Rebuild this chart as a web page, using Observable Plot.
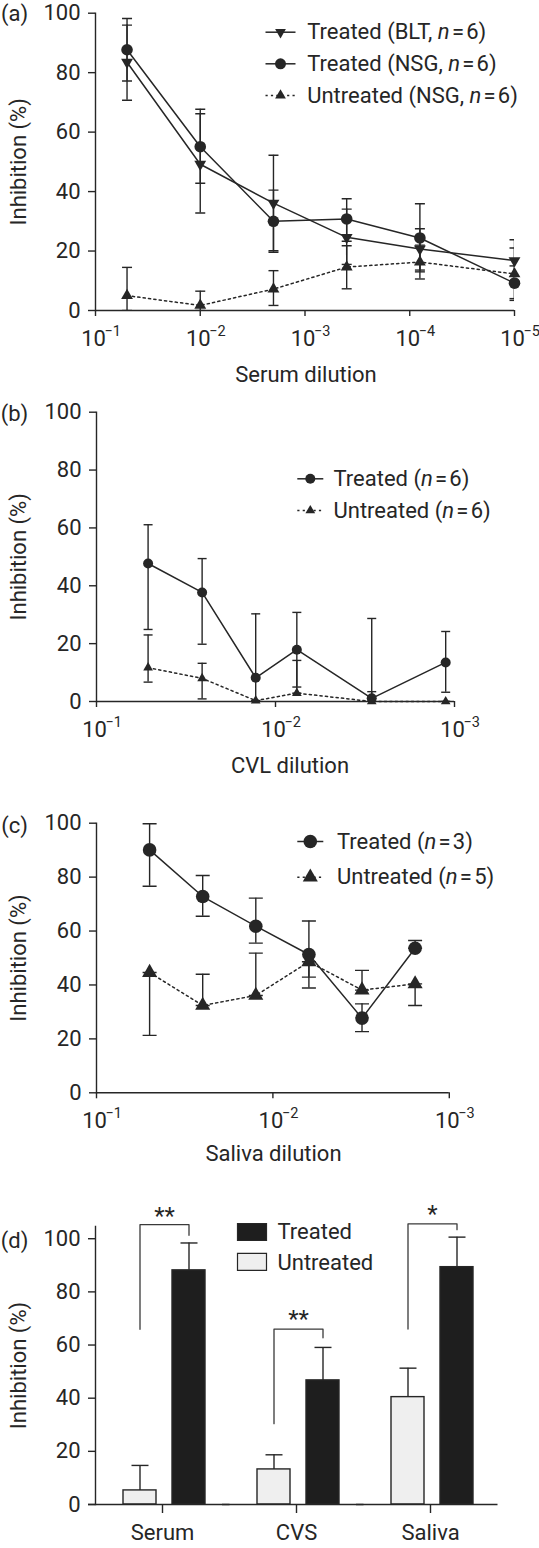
<!DOCTYPE html>
<html><head><meta charset="utf-8">
<script src="https://cdn.jsdelivr.net/npm/d3@7"></script>
<script src="https://cdn.jsdelivr.net/npm/@observablehq/plot@0.6"></script>
<style>
body{margin:0;background:#fff;}
#wrap{position:relative;width:539px;height:1548px;overflow:hidden;background:#fff;}
#wrap svg{position:absolute;left:0;}
</style></head><body><div id="wrap"></div>
<script>
// ---------------- data ----------------
const yTicks = [0, 20, 40, 60, 80, 100];

// (a) serum
const serumDilution = [0.05, 0.01, 0.002, 0.0004, 0.00008, 0.00001];
const serumTicks = [1e-1, 1e-2, 1e-3, 1e-4, 1e-5];
const serumBLT = [83.5, 49.2, 36.1, 24.6, 20.7, 16.8];
const serumBLTHigh = [96.0, 66.2, 52.2, 34.1, 27.5, 23.8];
const serumBLTLow = [70.7, 32.8, 20.1, 15.5, 13.6, 10.0];
const serumNSG = [87.7, 55.1, 30.0, 30.8, 24.4, 9.2];
const serumNSGHigh = [98.2, 67.7, 40.5, 37.6, 35.9, 15.0];
const serumNSGLow = [77.2, 42.8, 19.6, 23.3, 13.0, 3.4];
const serumUntreated = [5.0, 1.7, 7.2, 14.6, 16.3, 12.3];
const serumUntreatedHigh = [14.5, 6.5, 13.4, 21.8, 22.0, 21.0];
const serumUntreatedLow = [0, 0, 1.7, 7.3, 10.6, 4.0];
const serumLegend = ["Treated (BLT, n\u200A=\u200A6)", "Treated (NSG, n\u200A=\u200A6)", "Untreated (NSG, n\u200A=\u200A6)"];

// (b) CVL
const cvlDilution = [0.0515, 0.0257, 0.0129, 0.0076, 0.0029, 0.00112];
const cvlTicks = [1e-1, 1e-2, 1e-3];
const cvlTreated = [47.7, 37.7, 8.2, 17.9, 1.1, 13.5];
const cvlTreatedHigh = [61.1, 49.4, 30.3, 30.8, 28.7, 24.2];
const cvlTreatedLow = [24.9, 19.8, 0, 5.0, 0, 3.2];
const cvlUntreated = [11.7, 8.0, 0.3, 2.9, 0, 0];
const cvlUntreatedHigh = [23.0, 13.2, 0.3, 14.2, 3.4, 0];
const cvlUntreatedLow = [6.7, 0.9, 0.3, 2.9, 0, 0];
const cvlLegend = ["Treated (n\u200A=\u200A6)", "Untreated (n\u200A=\u200A6)"];

// (c) saliva
const salivaDilution = [1/20, 1/40, 1/80, 1/160, 1/320, 1/640];
const salivaTicks = [1e-1, 1e-2, 1e-3];
const salivaTreated = [90.1, 72.8, 61.8, 51.3, 27.7, 53.6];
const salivaTreatedHigh = [99.8, 80.6, 72.2, 63.7, 33.0, 56.5];
const salivaTreatedLow = [76.6, 65.5, 55.5, 38.9, 22.7, 53.6];
const salivaUntreated = [44.6, 32.4, 36.1, 48.6, 38.1, 40.4];
const salivaUntreatedHigh = [44.6, 44.0, 51.8, 48.6, 45.4, 40.4];
const salivaUntreatedLow = [21.3, 32.4, 36.1, 42.9, 38.1, 32.4];
const salivaLegend = ["Treated (n\u200A=\u200A3)", "Untreated (n\u200A=\u200A5)"];

// (d) summary bars
const sampleTypes = ["Serum", "CVS", "Saliva"];
const barGroups = ["Untreated", "Treated"];
const barUntreated = [5.3, 13.2, 40.4];
const barUntreatedHigh = [14.7, 18.7, 51.3];
const barTreated = [88.1, 46.7, 89.3];
const barTreatedHigh = [98.4, 59.1, 100.6];
const bracketUntreatedEnd = [65.9, 30.4, 66.0];
const bracketTop = [105.3, 66.0, 105.6];
const bracketTreatedEnd = [101.3, 62.7, 103.4];
const significance = ["**", "**", "*"];
const significanceLevel = [110.7, 71.8, 111.3];

// ---------------- style ----------------
const W = 539;
const INK = "#262626";
const FONT = "Roboto, 'Open Sans', sans-serif";
const FS = 22;
const DOTTED = "2.2,3.2";
const wrap = document.getElementById("wrap");

const hline = h => ({draw(ctx) { ctx.moveTo(-h, 0); ctx.lineTo(h, 0); }});
const box = (w, h) => ({draw(ctx) { ctx.rect(-w / 2, -h / 2, w, h); }});
const rows = (xs, v, lo, hi) => xs.map((x, i) => ({x, v: v[i], lo: lo[i], hi: hi[i]}));
const expLabel = d => "\u2212" + Math.round(-Math.log10(d));
function markerOpts(kind, r) {
  if (kind === "circle") return {symbol: "circle", r};
  if (kind === "down") return {symbol: "triangle", r, rotate: 180};
  return {symbol: "triangle", r};
}
function italicN(svg) {
  d3.select(svg).selectAll("text").each(function () {
    const t = this.textContent;
    const m = t.match(/^(.*?)n(\u200A=\u200A\d+\))$/);
    if (!m || this.children.length) return;
    const sel = d3.select(this);
    sel.text(null);
    sel.append("tspan").text(m[1]);
    sel.append("tspan").attr("font-style", "italic").text("n");
    sel.append("tspan").text(m[2]);
  });
}
function place(svg, top) {
  svg.style.top = top + "px";
  italicN(svg);
  wrap.appendChild(svg);
}

// ---------------- dilution panels ----------------
function dilutionPanel(c) {
  const MT = c.y100 - c.top, MB = c.top + c.height - c.y0, ML = c.x0, MR = W - c.x1;
  const at = (x, y) => ({frameAnchor: "top-left", textAnchor: "middle", lineAnchor: "middle", dx: x - ML, dy: y - c.top - MT});
  const marks = [
    Plot.ruleY([0], {stroke: INK, strokeWidth: 1.4}),
    Plot.frame({anchor: "left", stroke: INK, strokeWidth: 1.4}),
    Plot.axisY({ticks: yTicks, tickSize: 7, tickPadding: 8, label: null, stroke: INK, fill: INK, strokeWidth: 1.4}),
    Plot.axisX({ticks: c.ticks, tickSize: 6, tickFormat: () => "", label: null, stroke: INK, fill: INK, strokeWidth: 1.4}),
    Plot.text(c.ticks, {x: d => d, text: () => "10", frameAnchor: "bottom", lineAnchor: "bottom", dx: -2, dy: 35, fill: INK}),
    Plot.text(c.ticks, {x: d => d, text: expLabel, frameAnchor: "bottom", lineAnchor: "bottom", textAnchor: "start", dx: 9, dy: 25, fontSize: 14.5, fill: INK})
  ];
  for (const s of c.series) marks.push(Plot.line(s.data, {x: "x", y: "v", stroke: INK, strokeWidth: 1.5, strokeDasharray: s.dotted ? DOTTED : null}));
  for (const s of c.series) marks.push(
    Plot.ruleX(s.data, {x: "x", y1: "lo", y2: "hi", stroke: INK, strokeWidth: 1.4, clip: true}),
    Plot.dot(s.data, {x: "x", y: "hi", symbol: hline(c.cap), stroke: INK, strokeWidth: 1.4, fill: "none", clip: true}),
    Plot.dot(s.data, {x: "x", y: "lo", symbol: hline(c.cap), stroke: INK, strokeWidth: 1.4, fill: "none", clip: true})
  );
  for (const s of c.series) marks.push(Plot.dot(s.data, {x: "x", y: "v", ...markerOpts(s.marker, s.r), fill: INK, stroke: "none"}));
  c.series.forEach((s, i) => {
    const y = c.legendY[i];
    marks.push(
      Plot.dot([0], {...at(c.legendX, y), symbol: hline(c.legendHalf), stroke: INK, strokeWidth: 1.5, fill: "none", strokeDasharray: s.dotted ? DOTTED : null}),
      Plot.dot([0], {...at(c.legendX, y), ...markerOpts(s.marker, s.legendR || s.r), fill: INK, stroke: "none"}),
      Plot.text([s.label], {...at(c.legendTextX, y), textAnchor: "start", fill: INK})
    );
  });
  marks.push(
    Plot.text([c.panel], {...at(14, c.panelY), fill: INK}),
    Plot.text([c.title], {...at(c.titleX, c.titleBase), lineAnchor: "bottom", fill: INK}),
    Plot.text(["Inhibition (%)"], {...at(18, (c.y100 + c.y0) / 2), rotate: -90, fill: INK})
  );
  const svg = Plot.plot({
    width: W, height: c.height,
    marginTop: MT, marginBottom: MB, marginLeft: ML, marginRight: MR,
    x: {type: "log", domain: c.domain},
    y: {domain: [0, 100]},
    style: {fontFamily: FONT, fontSize: FS + "px", color: INK, background: "transparent", overflow: "visible"},
    marks
  });
  place(svg, c.top);
}

dilutionPanel({
  top: 0, height: 395, x0: 95, x1: 514, y100: 12.7, y0: 310,
  domain: [1e-1, 1e-5], ticks: serumTicks, cap: 5,
  series: [
    {data: rows(serumDilution, serumBLT, serumBLTLow, serumBLTHigh), marker: "down", r: 4.4, legendR: 4, label: serumLegend[0]},
    {data: rows(serumDilution, serumNSG, serumNSGLow, serumNSGHigh), marker: "circle", r: 5.8, legendR: 5.5, label: serumLegend[1]},
    {data: rows(serumDilution, serumUntreated, serumUntreatedLow, serumUntreatedHigh), marker: "up", r: 4.4, legendR: 4, dotted: true, label: serumLegend[2]}
  ],
  legendY: [31.7, 63.3, 95], legendX: 280, legendHalf: 15, legendTextX: 306.7,
  panel: "(a)", panelY: 13, title: "Serum dilution", titleX: 305.5, titleBase: 381
});

dilutionPanel({
  top: 390, height: 395, x0: 96, x1: 454, y100: 411.7, y0: 701,
  domain: [1e-1, 1e-3], ticks: cvlTicks, cap: 4.5,
  series: [
    {data: rows(cvlDilution, cvlTreated, cvlTreatedLow, cvlTreatedHigh), marker: "circle", r: 5, label: cvlLegend[0]},
    {data: rows(cvlDilution, cvlUntreated, cvlUntreatedLow, cvlUntreatedHigh), marker: "up", r: 3.6, dotted: true, label: cvlLegend[1]}
  ],
  legendY: [478.3, 510], legendX: 309.8, legendHalf: 13, legendTextX: 333,
  panel: "(b)", panelY: 413, title: "CVL dilution", titleX: 289.5, titleBase: 772
});

dilutionPanel({
  top: 780, height: 395, x0: 96, x1: 448.8, y100: 822.7, y0: 1092.3,
  domain: [1e-1, 1e-3], ticks: salivaTicks, cap: 7,
  series: [
    {data: rows(salivaDilution, salivaTreated, salivaTreatedLow, salivaTreatedHigh), marker: "circle", r: 6.8, label: salivaLegend[0]},
    {data: rows(salivaDilution, salivaUntreated, salivaUntreatedLow, salivaUntreatedHigh), marker: "up", r: 5.6, dotted: true, label: salivaLegend[1]}
  ],
  legendY: [841, 876.7], legendX: 309.8, legendHalf: 13, legendTextX: 336.5,
  panel: "(c)", panelY: 825, title: "Saliva dilution", titleX: 273, titleBase: 1160
});

// ---------------- bar panel (d) ----------------
(function () {
  const top = 1170, height = 378, yTop = 1226, y0 = 1504, ML = 95, MR = W - 497.2;
  const MT = yTop - top, MB = top + height - y0;
  const at = (x, y) => ({frameAnchor: "top-left", textAnchor: "middle", lineAnchor: "middle", dx: x - ML, dy: y - top - MT, facet: "super"});
  const DARK = "#1e1e1e", LIGHT = "#efefef";
  const bars = [];
  sampleTypes.forEach((cat, i) => {
    bars.push({cat, group: barGroups[0], v: barUntreated[i], hi: barUntreatedHigh[i]});
    bars.push({cat, group: barGroups[1], v: barTreated[i], hi: barTreatedHigh[i]});
  });
  const brackets = [];
  sampleTypes.forEach((cat, i) => {
    brackets.push({cat, group: barGroups[0], y: bracketUntreatedEnd[i]});
    brackets.push({cat, group: barGroups[0], y: bracketTop[i]});
    brackets.push({cat, group: barGroups[1], y: bracketTop[i]});
    brackets.push({cat, group: barGroups[1], y: bracketTreatedEnd[i]});
  });
  const stars = sampleTypes.map((cat, i) => ({cat, s: significance[i], y: significanceLevel[i]}));
  const svg = Plot.plot({
    width: W, height,
    marginTop: MT, marginBottom: MB, marginLeft: ML, marginRight: MR,
    fx: {domain: sampleTypes, paddingInner: 0, paddingOuter: 0},
    x: {domain: barGroups, paddingInner: 0.32, paddingOuter: 0.503, align: 0.533, axis: null},
    y: {domain: [0, 104.6]},
    style: {fontFamily: FONT, fontSize: FS + "px", color: INK, background: "transparent", overflow: "visible"},
    marks: [
      Plot.barY(bars.filter(d => d.group === barGroups[0]), {fx: "cat", x: "group", y: "v", fill: LIGHT, stroke: INK, strokeWidth: 1.4}),
      Plot.barY(bars.filter(d => d.group === barGroups[1]), {fx: "cat", x: "group", y: "v", fill: DARK, stroke: INK, strokeWidth: 1.4}),
      Plot.ruleY([0], {stroke: INK, strokeWidth: 1.4, insetLeft: -7, insetRight: -0.5}),
      Plot.frame({anchor: "left", facetAnchor: "left", stroke: INK, strokeWidth: 1.4}),
      Plot.axisY({ticks: yTicks, tickSize: 7, tickPadding: 8, label: null, stroke: INK, fill: INK, strokeWidth: 1.4}),
      Plot.axisFx({anchor: "bottom", tickSize: 9, tickPadding: 11, label: null, stroke: INK, fill: INK, strokeWidth: 1.4}),
      Plot.ruleX(bars, {fx: "cat", x: "group", y1: "v", y2: "hi", stroke: INK, strokeWidth: 1.4}),
      Plot.dot(bars, {fx: "cat", x: "group", y: "hi", symbol: hline(8.5), stroke: INK, strokeWidth: 1.4, fill: "none"}),
      Plot.line(brackets, {fx: "cat", x: "group", y: "y", z: "cat", stroke: "#3a3a3a", strokeWidth: 1.3}),
      Plot.text(stars, {fx: "cat", y: "y", text: "s", lineAnchor: "bottom", dy: 13.7, dx: 2, fontSize: 24, fill: INK}),
      Plot.dot([0], {...at(251.5, 1231.5), symbol: box(29, 17), fill: DARK, stroke: INK, strokeWidth: 1.2}),
      Plot.dot([0], {...at(251.5, 1261.3), symbol: box(29, 17), fill: LIGHT, stroke: INK, strokeWidth: 1.2}),
      Plot.text([barGroups[1]], {...at(277, 1231.7), textAnchor: "start", fill: INK}),
      Plot.text([barGroups[0]], {...at(277, 1262.7), textAnchor: "start", fill: INK}),
      Plot.text(["(d)"], {...at(14, 1240), fill: INK}),
      Plot.text(["Inhibition (%)"], {...at(18, (yTop + y0) / 2), rotate: -90, fill: INK})
    ]
  });
  place(svg, top);
})();
</script>
</body></html>
